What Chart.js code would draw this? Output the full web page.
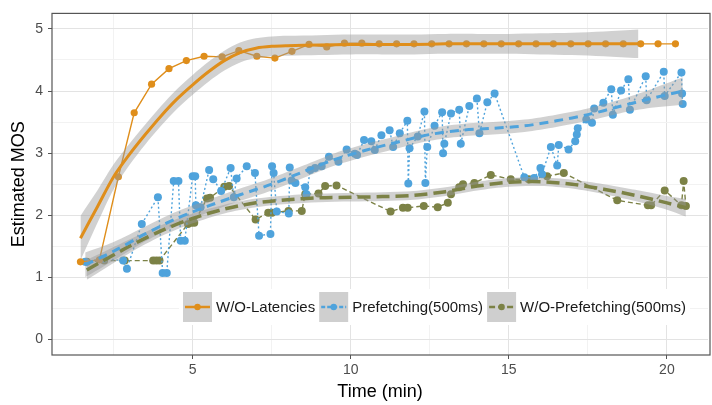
<!DOCTYPE html>
<html>
<head>
<meta charset="utf-8">
<script src="https://cdn.jsdelivr.net/npm/chart.js@4"></script>
<style>
  html, body { margin: 0; padding: 0; background: #fff; }
  #wrap { width: 712px; height: 405px; }
</style>
</head>
<body>
<div id="wrap"><canvas id="mosChart" width="712" height="405"></canvas></div>
<script>
// ---- data ----
const seriesNames = ['W/O-Latencies', 'Prefetching(500ms)', 'W/O-Prefetching(500ms)'];

const xTicks = [2.5, 5, 7.5, 10, 12.5, 15, 17.5, 20];
const yTicks = [0, 0.5, 1, 1.5, 2, 2.5, 3, 3.5, 4, 4.5, 5];

// W/O-Latencies raw points
const latT = [1.45, 2.05, 2.65, 3.15, 3.70, 4.25, 4.80, 5.36, 5.93, 6.46, 7.03, 7.60, 8.14, 8.68, 9.24,
  9.80, 10.35, 10.90, 11.45, 12.00, 12.56, 13.11, 13.66, 14.21, 14.76, 15.31, 15.86, 16.41, 16.96,
  17.51, 18.06, 18.62, 19.17, 19.72, 20.27];
const latV = [1.25, 1.28, 2.62, 3.65, 4.11, 4.36, 4.49, 4.56, 4.55, 4.65, 4.56, 4.53, 4.64, 4.75, 4.71,
  4.77, 4.77, 4.76, 4.76, 4.76, 4.76, 4.76, 4.76, 4.76, 4.76, 4.76, 4.76, 4.76, 4.76,
  4.76, 4.76, 4.76, 4.76, 4.76, 4.76];

// Prefetching(500ms) raw points
const prefT = [1.60, 2.17, 2.80, 2.92, 3.39, 3.90, 4.05, 4.18, 4.40, 4.55, 4.62, 4.75, 5.00, 5.08, 5.10,
  5.25, 5.52, 5.65, 5.90, 6.20, 6.30, 6.39, 6.71, 6.97, 7.10, 7.46, 7.51, 7.56, 7.66, 8.04, 8.07, 8.13,
  8.25, 8.56, 8.60, 8.72, 8.87, 9.08, 9.31, 9.61, 9.87, 10.13, 10.20, 10.42, 10.65, 10.76, 10.97, 11.23,
  11.34, 11.55, 11.79, 11.82, 11.86, 12.12, 12.33, 12.36, 12.42, 12.65, 12.89, 12.92, 12.96, 13.17,
  13.43, 13.48, 13.75, 13.99, 14.07, 14.32, 14.55, 15.49, 15.80, 16.00, 16.05, 16.33, 16.53, 16.58,
  16.89, 17.10, 17.15, 17.18, 17.45, 17.63, 17.70, 17.99, 18.24, 18.29, 18.55, 18.78, 18.83, 19.33,
  19.36, 19.90, 19.93, 20.46, 20.48, 20.50];
const prefV = [1.25, 1.30, 1.27, 1.14, 1.86, 2.29, 1.07, 1.07, 2.55, 2.55, 1.59, 1.59, 2.63, 2.63, 2.16,
  2.13, 2.73, 2.58, 2.39, 2.76, 2.29, 2.59, 2.79, 2.68, 1.67, 1.70, 2.79, 2.68, 2.06, 2.03, 2.77, 2.56,
  2.52, 2.45, 2.34, 2.73, 2.76, 2.79, 2.94, 2.86, 3.06, 2.99, 2.97, 3.21, 3.19, 3.05, 3.29, 3.37,
  3.10, 3.32, 3.52, 2.51, 3.08, 3.27, 3.67, 2.52, 3.10, 3.44, 3.66, 3.00, 3.15, 3.64,
  3.70, 3.15, 3.76, 3.88, 3.32, 3.82, 3.96, 2.61, 2.60, 2.76, 2.66, 3.10, 2.80, 3.13,
  3.06, 3.19, 3.30, 3.40, 3.54, 3.49, 3.72, 3.81, 4.03, 3.62, 4.01, 4.19, 3.70, 4.24,
  3.85, 4.31, 3.92, 4.30, 3.96, 3.79];

// W/O-Prefetching(500ms) raw points
const noPrefT = [1.65, 2.20, 2.85, 3.75, 3.85, 3.95, 4.85, 4.95, 5.05, 5.45, 5.55, 6.00, 6.15, 6.99, 7.39,
  7.51, 8.03, 8.45, 8.56, 8.98, 9.19, 9.55, 11.26, 11.65, 11.80, 12.31, 12.75, 13.07, 13.17, 13.43,
  13.55, 13.91, 14.43, 15.06, 15.63, 16.21, 16.74, 18.43, 19.40, 19.50, 19.93, 20.46, 20.53, 20.60];
const noPrefV = [1.25, 1.27, 1.27, 1.27, 1.27, 1.27, 1.86, 1.88, 1.88, 2.27, 2.28, 2.46, 2.47, 1.93, 2.04,
  2.04, 2.07, 2.07, 2.34, 2.35, 2.47, 2.48, 2.06, 2.12, 2.12, 2.15, 2.13, 2.20, 2.34, 2.45,
  2.50, 2.52, 2.65, 2.58, 2.58, 2.63, 2.68, 2.24, 2.16, 2.16, 2.40, 2.16, 2.55, 2.15];

// smoothed fits and their standard error bands
const latFitT = [1.45, 2.0, 2.5, 3.0, 3.5, 4.0, 4.5, 5.0, 5.5, 6.0, 6.5, 7.0, 7.5, 8.0, 9.0, 10, 11, 12, 13, 14, 15, 16, 17, 18, 19.1];
const latFitV = [1.63, 2.15, 2.62, 2.98, 3.30, 3.60, 3.87, 4.10, 4.31, 4.49, 4.62, 4.69, 4.72, 4.73, 4.74, 4.75, 4.75, 4.75, 4.76, 4.76, 4.76, 4.76, 4.76, 4.76, 4.76];
const latFitSe = [0.36, 0.26, 0.2, 0.17, 0.16, 0.16, 0.16, 0.16, 0.16, 0.16, 0.16, 0.16, 0.16, 0.16, 0.16, 0.16, 0.16, 0.16, 0.16, 0.16, 0.16, 0.17, 0.18, 0.2, 0.23];

const prefFitT = [1.6, 2.5, 3.5, 4.5, 5.5, 6.5, 7.5, 8.5, 9.5, 10.5, 11.5, 12.5, 13.5, 14.5, 15.5, 16.5, 17.5, 18.5, 19.5, 20.5];
const prefFitV = [1.2, 1.42, 1.7, 1.95, 2.15, 2.33, 2.5, 2.7, 2.9, 3.05, 3.18, 3.3, 3.37, 3.4, 3.44, 3.52, 3.62, 3.75, 3.88, 4.0];
const prefFitSe = [0.2, 0.15, 0.12, 0.11, 0.1, 0.1, 0.1, 0.1, 0.1, 0.1, 0.1, 0.1, 0.1, 0.1, 0.1, 0.1, 0.1, 0.11, 0.15, 0.22];

const noPrefFitT = [1.65, 3.0, 4.0, 5.0, 6.0, 7.0, 8.0, 9.0, 10, 11, 12, 13, 14, 15, 16, 17, 18, 19, 20, 20.6];
const noPrefFitV = [1.12, 1.5, 1.75, 1.95, 2.1, 2.2, 2.25, 2.28, 2.29, 2.3, 2.32, 2.38, 2.47, 2.53, 2.54, 2.5, 2.42, 2.32, 2.2, 2.12];
const noPrefFitSe = [0.16, 0.11, 0.09, 0.08, 0.07, 0.07, 0.07, 0.07, 0.07, 0.07, 0.07, 0.07, 0.07, 0.07, 0.07, 0.07, 0.08, 0.09, 0.11, 0.14];

// ---- styling ----
const ORANGE = '#DF8E1B';
const BLUE = '#4FA3DC';
const OLIVE = '#7C8246';
const RIBBON = 'rgba(153,153,153,0.45)';
const FONT = "'Liberation Sans', Arial, sans-serif";

function pts(ts, vs) {
  return ts.map((t, i) => ({ x: t, y: vs[i] }));
}
function band(ts, vs, se, sign) {
  return ts.map((t, i) => ({ x: t, y: vs[i] + sign * se[i] }));
}

function fitSet(ts, vs, color, dash, width) {
  return { data: pts(ts, vs), showLine: true, borderColor: color, borderWidth: width,
    borderDash: dash, pointRadius: 0, fill: false, tension: 0.3 };
}
function lowSet(ts, vs, se) {
  return { data: band(ts, vs, se, -1), showLine: true, borderWidth: 0, borderColor: 'transparent',
    pointRadius: 0, fill: false, tension: 0.3 };
}
function highSet(ts, vs, se) {
  return { data: band(ts, vs, se, 1), showLine: true, borderWidth: 0, borderColor: 'transparent',
    pointRadius: 0, fill: '-1', backgroundColor: RIBBON, tension: 0.3 };
}
function rawSet(ts, vs, color, dash, radius) {
  return { data: pts(ts, vs), showLine: true, borderColor: color, borderWidth: 1.4, borderDash: dash,
    pointRadius: radius, pointBackgroundColor: color, pointBorderWidth: 0, fill: false, tension: 0 };
}

// first dataset is drawn on top
const datasets = [
  fitSet(latFitT, latFitV, ORANGE, [], 3),
  fitSet(prefFitT, prefFitV, BLUE, [9, 6], 3),
  fitSet(noPrefFitT, noPrefFitV, OLIVE, [13, 6], 3.5),
  lowSet(latFitT, latFitV, latFitSe), highSet(latFitT, latFitV, latFitSe),
  lowSet(prefFitT, prefFitV, prefFitSe), highSet(prefFitT, prefFitV, prefFitSe),
  lowSet(noPrefFitT, noPrefFitV, noPrefFitSe), highSet(noPrefFitT, noPrefFitV, noPrefFitSe),
  rawSet(latT, latV, ORANGE, [], 3.6),
  rawSet(prefT, prefV, BLUE, [2, 2.5], 4),
  rawSet(noPrefT, noPrefV, OLIVE, [5, 3], 4)
];

// panel border + legend inside the panel
const panelLegend = {
  id: 'panelLegend',
  afterDraw(chart) {
    const { ctx, chartArea: a } = chart;
    ctx.save();
    ctx.strokeStyle = '#555';
    ctx.lineWidth = 1.2;
    ctx.strokeRect(a.left, a.top, a.right - a.left + 2, a.bottom - a.top);

    const keys = [
      { label: seriesNames[0], color: ORANGE, dash: [] },
      { label: seriesNames[1], color: BLUE, dash: [4, 2] },
      { label: seriesNames[2], color: OLIVE, dash: [6, 3] }
    ];
    ctx.font = '15px ' + FONT;
    let x = 183;
    const y = 292, kw = 29, kh = 30;
    let total = 0;
    keys.forEach(k => { total += kw + 4 + ctx.measureText(k.label).width + 4; });
    ctx.fillStyle = '#fff';
    ctx.fillRect(x - 4, y - 3, total + 4, kh + 6);
    keys.forEach(k => {
      ctx.fillStyle = '#cfcfcf';
      ctx.fillRect(x, y, kw, kh);
      ctx.strokeStyle = k.color;
      ctx.lineWidth = 2.5;
      ctx.setLineDash(k.dash);
      ctx.beginPath();
      ctx.moveTo(x + 2, y + kh / 2);
      ctx.lineTo(x + kw - 2, y + kh / 2);
      ctx.stroke();
      ctx.setLineDash([]);
      ctx.fillStyle = k.color;
      ctx.beginPath();
      ctx.arc(x + kw / 2, y + kh / 2, 3.2, 0, Math.PI * 2);
      ctx.fill();
      ctx.fillStyle = '#1a1a1a';
      ctx.textBaseline = 'middle';
      ctx.textAlign = 'left';
      ctx.fillText(k.label, x + kw + 4, y + kh / 2 + 1);
      x += kw + 4 + ctx.measureText(k.label).width + 4;
    });
    ctx.restore();
  }
};

const gridColor = c => (c.tick && c.tick.value % (c.scale.axis === 'x' ? 5 : 1) === 0) ? '#e3e3e3' : '#f2f2f2';
const tickColor = c => (c.tick && c.tick.value % (c.scale.axis === 'x' ? 5 : 1) === 0) ? '#555' : 'rgba(0,0,0,0)';

new Chart(document.getElementById('mosChart').getContext('2d'), {
  type: 'scatter',
  data: { datasets: datasets },
  options: {
    responsive: false,
    animation: false,
    devicePixelRatio: 1,
    layout: { padding: { top: 5, right: 0, left: 0, bottom: 0 } },
    plugins: { legend: { display: false }, tooltip: { enabled: false } },
    scales: {
      x: {
        type: 'linear', min: 0.55, max: 21.3,
        afterBuildTicks: s => { s.ticks = xTicks.map(v => ({ value: v })); },
        afterFit: s => { s.height = 50; },
        grid: { color: gridColor, tickColor: tickColor, tickLength: 4, lineWidth: 1 },
        border: { display: false },
        ticks: { color: '#4d4d4d', font: { size: 14, family: FONT }, padding: 3,
          maxRotation: 0, autoSkip: false,
          callback: v => (v % 5 === 0 ? String(v) : '') },
        title: { display: true, text: 'Time (min)', color: '#000', font: { size: 18, family: FONT },
          padding: { top: 0, bottom: 2 } }
      },
      y: {
        type: 'linear', min: -0.25, max: 5.25,
        afterBuildTicks: s => { s.ticks = yTicks.map(v => ({ value: v })); },
        afterFit: s => { s.width = 52; },
        grid: { color: gridColor, tickColor: tickColor, tickLength: 4, lineWidth: 1 },
        border: { display: false },
        ticks: { color: '#4d4d4d', font: { size: 14, family: FONT }, padding: 5, autoSkip: false,
          callback: v => (v % 1 === 0 ? String(v) : '') },
        title: { display: true, text: 'Estimated MOS', color: '#000', font: { size: 18, family: FONT },
          padding: { top: 8, bottom: 0 } }
      }
    }
  },
  plugins: [panelLegend]
});
</script>
</body>
</html>
